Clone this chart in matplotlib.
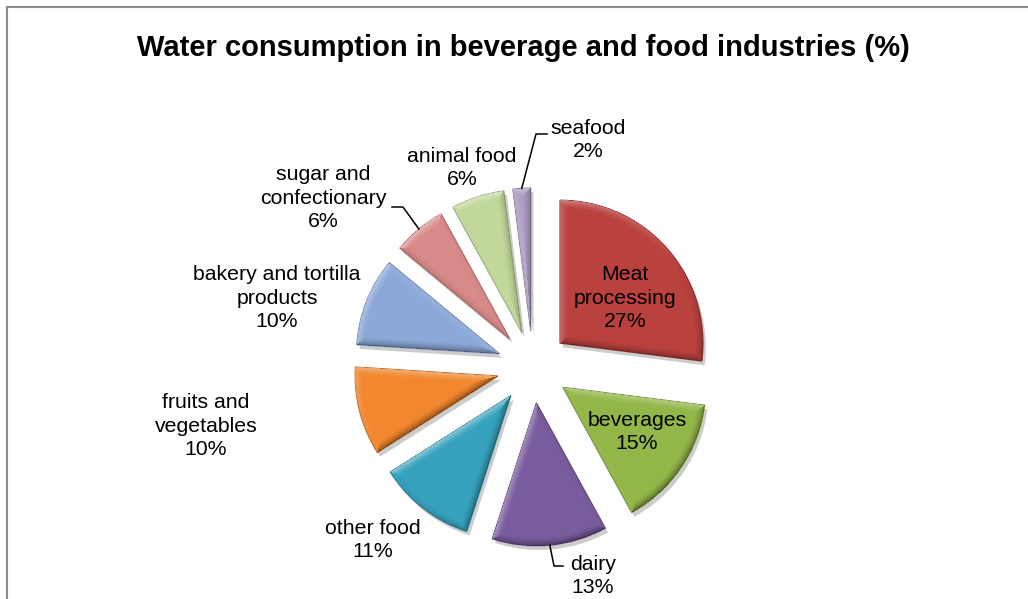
import matplotlib
matplotlib.use("Agg")
import matplotlib.pyplot as plt
import matplotlib.patheffects as pe
import numpy as np

plt.rcParams["font.family"] = ["Liberation Sans", "DejaVu Sans"]

# water use by industry, clockwise from 12 o'clock
categories = [
    "Meat\nprocessing", "beverages", "dairy", "other food", "fruits and\nvegetables",
    "bakery and tortilla\nproducts", "sugar and\nconfectionary", "animal food", "seafood",
]
shares = [27, 15, 13, 11, 10, 10, 6, 6, 2]
colors = ["#B9413E", "#93B649", "#7A5C9E", "#37A2BE", "#F2872F",
          "#8BA8D8", "#D98B89", "#C2D79A", "#AE9CC6"]

W, H = 1028, 599
CENTER = (533, H - 367)
RADIUS = 143
EXPLODE = 36
BEVEL = 9

# label centres (px, y from top) and optional leader elbow/end points
label_pos = [(625, 298), (637, 432), (593, 576), (373, 540), (206, 426),
             (277, 298), (323, 198), (462, 168), (588, 140)]
leaders = {
    2: [(554, 566), (563, 566)],
    6: [(403, 207), (392, 207)],
    8: [(536, 134), (547, 134)],
}


def darker(c, f=0.72):
    r, g, b = matplotlib.colors.to_rgb(c)
    return (r * f, g * f, b * f)


def bevel_overlay(wedges, radius, width, height, bw):
    """Light/dark rim on each wedge, lit from the upper left."""
    gx, gy = np.meshgrid(np.arange(width) + 0.5, np.arange(height) + 0.5)
    over = np.zeros((height, width, 4))
    light = np.array([-0.55, 0.83])
    for w in wedges:
        ax_, ay_ = w.center
        rx, ry = gx - ax_, gy - ay_
        r = np.hypot(rx, ry) + 1e-9
        t1, t2 = np.deg2rad(w.theta1), np.deg2rad(w.theta2)
        ang = np.arctan2(ry, rx)
        inside = (r <= radius) & (np.mod(ang - t1, 2 * np.pi) <= (t2 - t1))
        d_arc = radius - r
        d_1 = np.cos(t1) * ry - np.sin(t1) * rx
        d_2 = np.sin(t2) * rx - np.cos(t2) * ry
        dist = np.stack([d_arc, d_1, d_2])
        k = np.argmin(dist, axis=0)
        d = np.take_along_axis(dist, k[None], 0)[0]
        nx = np.choose(k, [rx / r, np.full_like(r, np.sin(t1)), np.full_like(r, -np.sin(t2))])
        ny = np.choose(k, [ry / r, np.full_like(r, -np.cos(t1)), np.full_like(r, np.cos(t2))])
        fall = np.clip(1 - d / bw, 0, 1) ** 1.6
        shade = (nx * light[0] + ny * light[1]) * fall
        hi = inside & (shade > 0)
        lo = inside & (shade < 0)
        over[hi, :3] = 1.0
        over[hi, 3] = shade[hi] * 0.45
        over[lo, :3] = 0.0
        over[lo, 3] = -shade[lo] * 0.42
    return over


fig = plt.figure(figsize=(W / 100, H / 100), dpi=100)
ax = fig.add_axes([0, 0, 1, 1])

wedges, _ = ax.pie(
    shares, colors=colors, startangle=90, counterclock=False,
    radius=RADIUS, center=CENTER, explode=[EXPLODE] * len(shares),
    wedgeprops=dict(linewidth=0.8),
)
for w, c in zip(wedges, colors):
    w.set_edgecolor(darker(c, 0.8))
    w.set_path_effects([
        pe.SimplePatchShadow(offset=(2, -3), shadow_rgbFace="#808080", alpha=0.4),
        pe.Normal(),
    ])

ax.imshow(bevel_overlay(wedges, RADIUS, W, H, BEVEL), extent=(0, W, 0, H),
          origin="lower", interpolation="bilinear", zorder=1.5)

ax.set_xlim(0, W)
ax.set_ylim(0, H)
ax.set_aspect("auto")
ax.axis("off")

for i, (name, val) in enumerate(zip(categories, shares)):
    lx, ly = label_pos[i]
    ax.text(lx, H - ly, f"{name}\n{val}%", ha="center", va="center",
            fontsize=15.3, linespacing=1.28, color="#000000", zorder=3)
    if i in leaders:
        w = wedges[i]
        tm = np.deg2rad((w.theta1 + w.theta2) / 2)
        sx = w.center[0] + RADIUS * np.cos(tm)
        sy = w.center[1] + RADIUS * np.sin(tm)
        xs = [sx] + [p[0] for p in leaders[i]]
        ys = [sy] + [H - p[1] for p in leaders[i]]
        ax.plot(xs, ys, color="#000000", lw=1.1, zorder=3)

ax.text(523, H - 48, "Water consumption in beverage and food industries (%)",
        ha="center", va="center", fontsize=21, fontweight="bold")

# chart area border (left and top edges)
ax.plot([6.5, 6.5, W], [0, H - 6.5, H - 6.5], color="#8C8C8C", lw=1.5,
        solid_joinstyle="miter")

fig.savefig("out.png", dpi=100)
